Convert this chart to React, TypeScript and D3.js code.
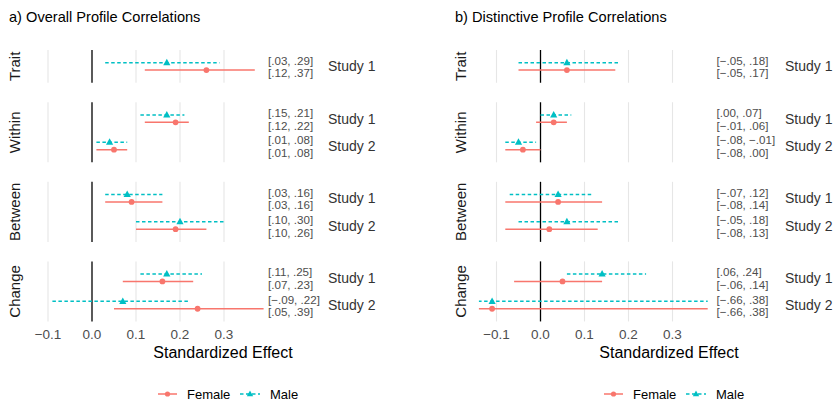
import React from 'react';
import * as d3 from 'd3';

// rows: construct + study (top to bottom)
const constructs = ['Trait', 'Within', 'Between', 'Change'];
const rowConstruct = ['Trait', 'Within', 'Within', 'Between', 'Between', 'Change', 'Change'];
const rowStudy = ['Study 1', 'Study 1', 'Study 2', 'Study 1', 'Study 2', 'Study 1', 'Study 2'];
const xTicks = [-0.1, 0.0, 0.1, 0.2, 0.3];

// a) overall profile correlations
const overallMaleEst = [0.17, 0.17, 0.04, 0.08, 0.20, 0.17, 0.07];
const overallMaleLo = [0.03, 0.11, 0.01, 0.03, 0.10, 0.11, -0.09];
const overallMaleHi = [0.29, 0.21, 0.08, 0.16, 0.30, 0.25, 0.22];
const overallFemaleEst = [0.26, 0.19, 0.05, 0.09, 0.19, 0.16, 0.24];
const overallFemaleLo = [0.12, 0.12, 0.01, 0.03, 0.10, 0.07, 0.05];
const overallFemaleHi = [0.37, 0.22, 0.08, 0.16, 0.26, 0.23, 0.39];
const overallMaleCI = ['[.03, .29]', '[.15, .21]', '[.01, .08]', '[.03, .16]', '[.10, .30]', '[.11, .25]', '[\u2212.09, .22]'];
const overallFemaleCI = ['[.12, .37]', '[.12, .22]', '[.01, .08]', '[.03, .16]', '[.10, .26]', '[.07, .23]', '[.05, .39]'];

// b) distinctive profile correlations
const distMaleEst = [0.06, 0.03, -0.05, 0.04, 0.06, 0.14, -0.11];
const distMaleLo = [-0.05, 0.00, -0.08, -0.07, -0.05, 0.06, -0.66];
const distMaleHi = [0.18, 0.07, -0.01, 0.12, 0.18, 0.24, 0.38];
const distFemaleEst = [0.06, 0.03, -0.04, 0.04, 0.02, 0.05, -0.11];
const distFemaleLo = [-0.05, -0.01, -0.08, -0.08, -0.08, -0.06, -0.66];
const distFemaleHi = [0.17, 0.06, 0.00, 0.14, 0.13, 0.14, 0.38];
const distMaleCI = ['[\u2212.05, .18]', '[.00, .07]', '[\u2212.08, \u2212.01]', '[\u2212.07, .12]', '[\u2212.05, .18]', '[.06, .24]', '[\u2212.66, .38]'];
const distFemaleCI = ['[\u2212.05, .17]', '[\u2212.01, .06]', '[\u2212.08, .00]', '[\u2212.08, .14]', '[\u2212.08, .13]', '[\u2212.06, .14]', '[\u2212.66, .38]'];

const FEMALE = '#F8766D';
const MALE = '#00BFC4';
const FONT = '"Liberation Sans", Arial, Helvetica, sans-serif';
const DASH = '3.5,2.5';

const unit = 27.3;
const gap = 19.5;
const top0 = 50;

function fmtTick(v) {
  return v < 0 ? '\u2212' + Math.abs(v).toFixed(1) : v.toFixed(1);
}

function tri(cx, cy, r) {
  return `M${cx},${cy - r * 1.1} L${cx + r},${cy + r * 0.7} L${cx - r},${cy + r * 0.7} Z`;
}

function Panel({ id, ox, zero, studyX, title, mEst, mLo, mHi, fEst, fLo, fHi, mCI, fCI }) {
  const x = d3.scaleLinear().domain([-0.14, 0.4]).range([zero - 0.14 * 440, zero + 0.4 * 440]);

  // facet panels, height follows number of studies
  let t = top0;
  const panels = constructs.map(c => {
    const studies = rowStudy.filter((s, i) => rowConstruct[i] === c);
    const h = (studies.length - 1 + 1.2) * unit;
    const y = d3.scalePoint().domain(studies).range([t, t + h]).padding(0.6);
    const p = { c, top: t, h, y };
    t += h + gap;
    return p;
  });
  const bottom = panels[panels.length - 1].top + panels[panels.length - 1].h;
  const dodge = 3.7;

  return (
    <g>
      <defs>
        <clipPath id={id}>
          <rect x={x(-0.14)} y={0} width={x(0.45) - x(-0.14)} height={402} />
        </clipPath>
      </defs>
      <text x={ox + 9} y={22} fontSize={14.6} fill="#000">{title}</text>
      {panels.map(p => (
        <g key={p.c}>
          {xTicks.filter(v => v !== 0).map(v => (
            <line key={v} x1={x(v)} x2={x(v)} y1={p.top} y2={p.top + p.h} stroke="#e6e6e6" strokeWidth={1.1} />
          ))}
          <line x1={x(0)} x2={x(0)} y1={p.top} y2={p.top + p.h} stroke="#000" strokeWidth={1.3} />
          <text transform={`translate(${ox + 20},${p.top + p.h / 2}) rotate(-90)`} textAnchor="middle" fontSize={15} fill="#1a1a1a">{p.c}</text>
        </g>
      ))}
      {rowStudy.map((s, i) => {
        const p = panels.find(q => q.c === rowConstruct[i]);
        const cy = p.y(s);
        return (
          <g key={i}>
            <g clipPath={`url(#${id})`}>
              <line x1={x(mLo[i])} x2={x(mHi[i])} y1={cy - dodge} y2={cy - dodge} stroke={MALE} strokeWidth={1.5} strokeDasharray={DASH} />
              <path d={tri(x(mEst[i]), cy - dodge, 3.6)} fill={MALE} />
              <line x1={x(fLo[i])} x2={x(fHi[i])} y1={cy + dodge} y2={cy + dodge} stroke={FEMALE} strokeWidth={1.5} />
              <circle cx={x(fEst[i])} cy={cy + dodge} r={2.9} fill={FEMALE} />
            </g>
            <text x={x(0.4)} y={cy - 6} dominantBaseline="central" fontSize={11.6} fill="#4d4d4d">{mCI[i]}</text>
            <text x={x(0.4)} y={cy + 6.5} dominantBaseline="central" fontSize={11.6} fill="#4d4d4d">{fCI[i]}</text>
            <text x={studyX} y={cy} dominantBaseline="central" fontSize={14} fill="#333">{s}</text>
          </g>
        );
      })}
      {xTicks.map(v => (
        <text key={v} x={x(v)} y={bottom + 13} dominantBaseline="central" textAnchor="middle" fontSize={13.5} fill="#4d4d4d">{fmtTick(v)}</text>
      ))}
      <text x={ox + 223} y={bottom + 31} dominantBaseline="central" textAnchor="middle" fontSize={16} fill="#000">Standardized Effect</text>
      <g transform={`translate(${ox + 158},394)`}>
        <line x1={0} x2={19} y1={0} y2={0} stroke={FEMALE} strokeWidth={1.5} />
        <circle cx={9.5} cy={0} r={2.6} fill={FEMALE} />
        <text x={29} y={0} dominantBaseline="central" fontSize={13} fill="#000">Female</text>
        <line x1={82} x2={102} y1={0} y2={0} stroke={MALE} strokeWidth={1.5} strokeDasharray={DASH} />
        <path d={tri(92, 0, 3.2)} fill={MALE} />
        <text x={112} y={0} dominantBaseline="central" fontSize={13} fill="#000">Male</text>
      </g>
    </g>
  );
}

export default function App() {
  return (
    <svg width={834} height={402} style={{ position: 'absolute', left: 0, top: 0, background: '#fff' }} fontFamily={FONT}>
      <Panel id="clipA" ox={0} zero={92} studyX={328} title="a) Overall Profile Correlations"
        mEst={overallMaleEst} mLo={overallMaleLo} mHi={overallMaleHi}
        fEst={overallFemaleEst} fLo={overallFemaleLo} fHi={overallFemaleHi}
        mCI={overallMaleCI} fCI={overallFemaleCI} />
      <Panel id="clipB" ox={446} zero={540.5} studyX={785} title="b) Distinctive Profile Correlations"
        mEst={distMaleEst} mLo={distMaleLo} mHi={distMaleHi}
        fEst={distFemaleEst} fLo={distFemaleLo} fHi={distFemaleHi}
        mCI={distMaleCI} fCI={distFemaleCI} />
    </svg>
  );
}
